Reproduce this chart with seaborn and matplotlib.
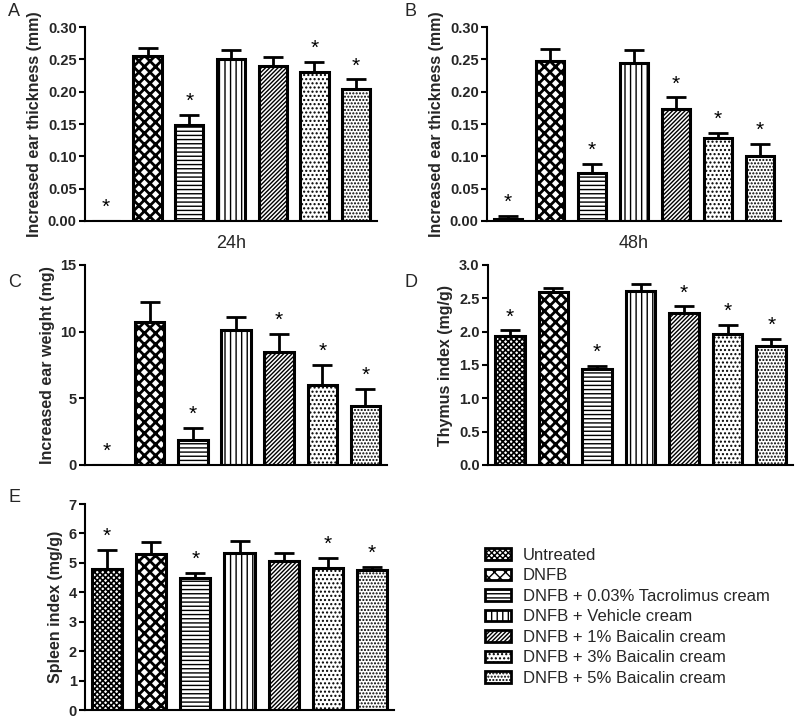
import numpy as np
import pandas as pd
import matplotlib
matplotlib.use("Agg")
import matplotlib.pyplot as plt
import seaborn as sns
from matplotlib.patches import Patch

sns.set_theme(style="ticks")
plt.rcParams['font.family'] = ['Liberation Sans', 'DejaVu Sans']
plt.rcParams['hatch.linewidth'] = 1.0

groups = ["Untreated", "DNFB", "DNFB + 0.03% Tacrolimus cream", "DNFB + Vehicle cream",
          "DNFB + 1% Baicalin cream", "DNFB + 3% Baicalin cream", "DNFB + 5% Baicalin cream"]
hatches = ["xxxxxx", "xxx", "----", "|||", "////////", "....", "....."]

# panel data (mean, upper SEM)
thick24 = [0.0, 0.255, 0.148, 0.250, 0.239, 0.231, 0.204]
thick24_err = [0.0, 0.013, 0.016, 0.014, 0.015, 0.015, 0.015]
thick24_star = [0, 2, 5, 6]

thick48 = [0.003, 0.248, 0.075, 0.244, 0.173, 0.128, 0.101]
thick48_err = [0.005, 0.018, 0.013, 0.020, 0.018, 0.008, 0.018]
thick48_star = [0, 2, 4, 5, 6]

weight = [0.0, 10.7, 1.9, 10.1, 8.45, 6.0, 4.45]
weight_err = [0.0, 1.5, 0.9, 1.0, 1.4, 1.5, 1.25]
weight_star = [0, 2, 4, 5, 6]

thymus = [1.94, 2.60, 1.44, 2.61, 2.28, 1.97, 1.79]
thymus_err = [0.08, 0.06, 0.05, 0.10, 0.10, 0.13, 0.10]
thymus_star = [0, 2, 4, 5, 6]

spleen = [4.80, 5.30, 4.50, 5.35, 5.08, 4.83, 4.75]
spleen_err = [0.65, 0.40, 0.17, 0.40, 0.25, 0.35, 0.12]
spleen_star = [0, 2, 5, 6]

W, H = 800, 718
fig = plt.figure(figsize=(W / 100, H / 100), dpi=100)


def box(l, r, b, t):
    return [l / W, 1 - b / H, (r - l) / W, (b - t) / H]


def style_hatch(p, h):
    p.set_hatch(h)
    p.set_facecolor("white")
    if hasattr(p, "set_hatch_linewidth"):
        if h == "xxx":
            p.set_hatch_linewidth(2.0)
        elif h == "xxxxxx":
            p.set_hatch_linewidth(1.2)


def panel(rect, vals, errs, stars, ylabel, ylim, yticks, fmt, xlabel=None):
    ax = fig.add_axes(rect)
    df = pd.DataFrame({"group": groups, "value": vals})
    sns.barplot(data=df, x="group", y="value", order=groups, color="white",
                edgecolor="black", linewidth=2.2, width=0.68, errorbar=None,
                saturation=1, ax=ax)
    for p, h in zip(ax.patches, hatches):
        style_hatch(p, h)
    x = np.arange(len(groups))
    ax.errorbar(x, vals, yerr=[np.zeros(len(vals)), errs], fmt="none",
                ecolor="black", elinewidth=2, capsize=7, capthick=2, zorder=1)
    off = (ylim[1] - ylim[0]) * 0.02
    for i in stars:
        ax.text(i, vals[i] + errs[i] + off, "*", ha="center", va="bottom",
                fontsize=15, color="black")
    ax.set_xlim(-0.5, 6.5)
    ax.set_ylim(*ylim)
    ax.set_yticks(yticks)
    ax.set_yticklabels([fmt.format(v) for v in yticks], fontweight="bold", fontsize=10.5)
    ax.set_xticks([])
    ax.set_ylabel(ylabel, fontweight="bold", fontsize=11.5)
    if xlabel:
        ax.set_xlabel(xlabel, fontsize=13, labelpad=10)
    else:
        ax.set_xlabel("")
    sns.despine(ax=ax)
    for s in ["left", "bottom"]:
        ax.spines[s].set_linewidth(1.5)
        ax.spines[s].set_color("black")
    ax.tick_params(axis="y", width=1.5, length=4, color="black", pad=2)
    return ax


panel(box(85, 377, 221, 27), thick24, thick24_err, thick24_star,
      "Increased ear thickness (mm)", (0, 0.30), np.arange(0, 0.31, 0.05), "{:.2f}", "24h")
panel(box(487, 781, 221, 27), thick48, thick48_err, thick48_star,
      "Increased ear thickness (mm)", (0, 0.30), np.arange(0, 0.31, 0.05), "{:.2f}", "48h")
panel(box(85, 387, 465, 265), weight, weight_err, weight_star,
      "Increased ear weight (mg)", (0, 15), [0, 5, 10, 15], "{:d}")
panel(box(488, 793, 465, 265), thymus, thymus_err, thymus_star,
      "Thymus index (mg/g)", (0, 3.0), np.arange(0, 3.01, 0.5), "{:.1f}")
panel(box(85, 394, 710, 504), spleen, spleen_err, spleen_star,
      "Spleen index (mg/g)", (0, 7), list(range(8)), "{:d}")

for lab, (px, py) in zip("ABCDE", [(8, 12), (404, 12), (8, 282), (404, 282), (8, 497)]):
    fig.text(px / W, 1 - py / H, lab, fontsize=13, va="center", ha="left")

handles = []
for h in hatches:
    hp = Patch(facecolor="white", edgecolor="black", hatch=h, linewidth=2)
    style_hatch(hp, h)
    handles.append(hp)
fig.legend(handles, groups, loc="upper left", bbox_to_anchor=(478 / W, 1 - 541 / H),
           frameon=False, fontsize=12.0, handlelength=1.55, handleheight=0.7,
           labelspacing=0.33, handletextpad=0.75, borderaxespad=0)

fig.savefig("out.png", dpi=100)
